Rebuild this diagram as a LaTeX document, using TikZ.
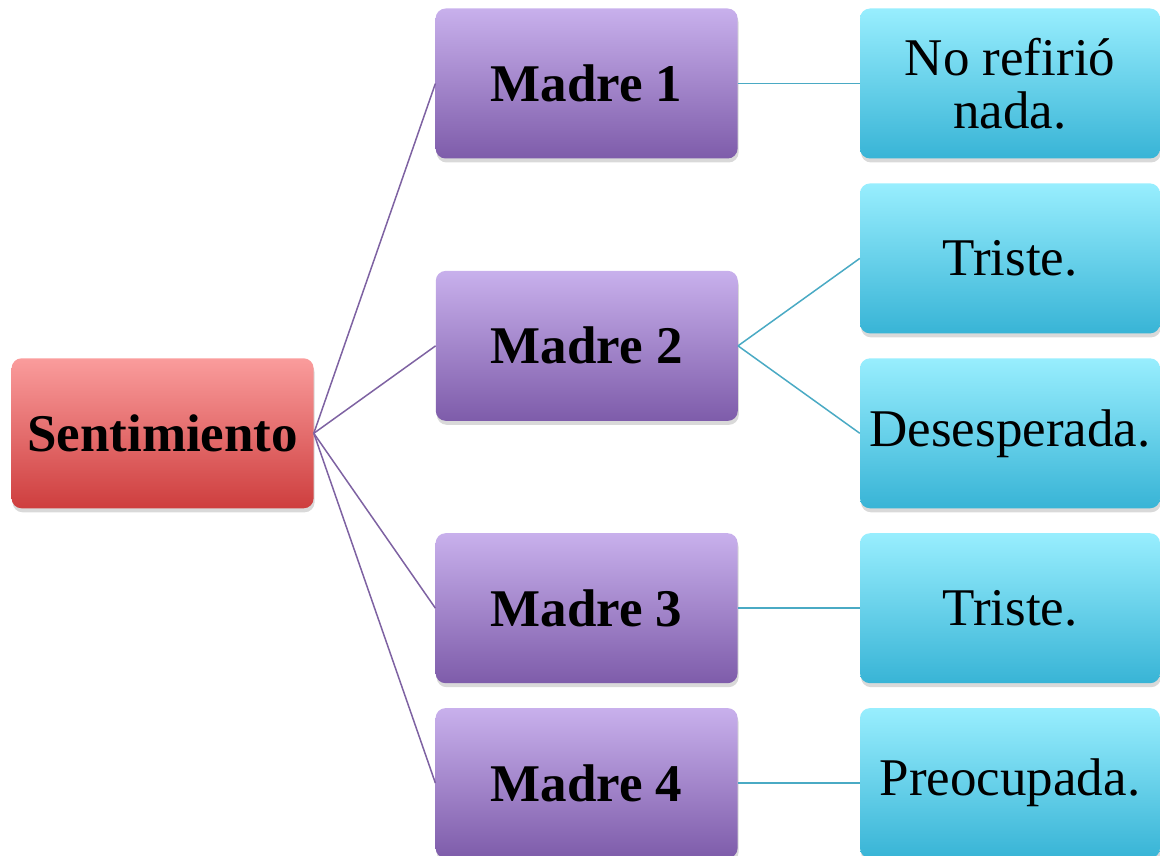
\documentclass[tikz,border=0pt]{standalone}
\usepackage{fontspec}
\setmainfont{Liberation Serif}
\usepackage{xcolor}
\usetikzlibrary{shadows}
\usetikzlibrary{calc}
\usetikzlibrary{positioning}
\definecolor{rojoA}{HTML}{FA9C9C}
\definecolor{rojoB}{HTML}{CE3E3E}
\definecolor{moradoA}{HTML}{C8B0EC}
\definecolor{moradoB}{HTML}{7E5CAA}
\definecolor{celesteA}{HTML}{98EEFE}
\definecolor{celesteB}{HTML}{38B4D6}
\definecolor{lineamorada}{HTML}{7E62A2}
\definecolor{lineaceleste}{HTML}{4AAAC4}

\begin{document}
\begin{tikzpicture}[x=1pt,y=-1pt]
\tikzset{caja/.style={rectangle,rounded corners=10pt,minimum width=302pt,minimum height=150pt,inner sep=0pt,align=center,font=\fontsize{53}{53}\selectfont,drop shadow={shadow xshift=1pt,shadow yshift=-4pt,opacity=0.3}},
raiz/.style={caja,top color=rojoA,bottom color=rojoB,font=\fontsize{53}{53}\selectfont\bfseries},
madre/.style={caja,top color=moradoA,bottom color=moradoB,font=\fontsize{53}{53}\selectfont\bfseries},
hoja/.style={caja,minimum width=300pt,top color=celesteA,bottom color=celesteB}}
\useasboundingbox (0,0) rectangle (1160,856);
% columna derecha
\node[hoja](r1) at (1010,83.5){No refirió\\nada.};
\node[hoja](r2)[below=24.5pt of r1]{Triste.};
\node[hoja](r3)[below=24.5pt of r2]{Desesperada.};
\node[hoja](r4)[below=24.5pt of r3]{Triste.};
\node[hoja](r5)[below=24.5pt of r4]{Preocupada.};
% madres
\node[madre](m1)[left=122pt of r1]{Madre 1};
\node[madre](m2) at ($(r2.west)!0.5!(r3.west)+(-273,0)$){Madre 2};
\node[madre](m3)[left=122pt of r4]{Madre 3};
\node[madre](m4)[left=122pt of r5]{Madre 4};
\node[raiz](s)[left=546pt of r3]{Sentimiento};
% conectores
\foreach \m in {m1,m2,m3,m4}
  \draw[lineamorada,line width=1.5pt](s.east) -- (\m.west);
\draw[lineaceleste,line width=1.5pt](m1.east) -- (r1.west);
\draw[lineaceleste,line width=1.5pt](m2.east) -- (r2.west);
\draw[lineaceleste,line width=1.5pt](m2.east) -- (r3.west);
\draw[lineaceleste,line width=1.5pt](m3.east) -- (r4.west);
\draw[lineaceleste,line width=1.5pt](m4.east) -- (r5.west);
\end{tikzpicture}
\end{document}
